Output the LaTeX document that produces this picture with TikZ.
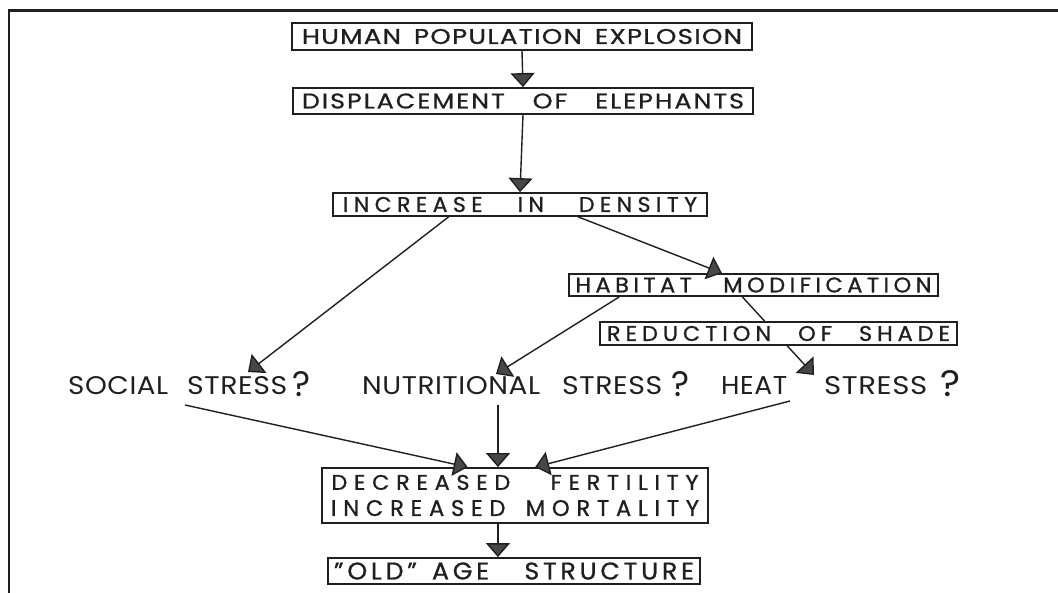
\documentclass[tikz,border=0pt]{standalone}
\usepackage{fontspec}
\setmainfont{Poppins}
\usepackage{graphicx}
\usetikzlibrary{arrows.meta,calc}
\definecolor{ink}{gray}{0.12}
% lettering fitted to a given width and cap height, with extra tracking
\newcommand\fitlbl[4]{\resizebox{#1pt}{#2pt}{\addfontfeatures{LetterSpace=#3}#4}}
% the same, slightly heavier, for the boxed headings
\newcommand\fitbox[4]{\resizebox{#1pt}{#2pt}{\addfontfeatures{LetterSpace=#3,FakeBold=0.9}#4}}
\newcommand\gap[1]{\hspace{#1em}}
\begin{document}
\begin{tikzpicture}[x=1pt,y=-1pt,
  box/.style={draw=ink, line width=1.8pt, fill=white, inner sep=0pt, text=ink},
  link/.style={draw=ink, line width=1.4pt},
  arr/.style={link, -{Triangle[width=24pt,length=14pt,fill=black!72]}},
  word/.style={anchor=south west, inner sep=0pt, text=ink}]
\fill[white] (0,0) rectangle (1058,593);
\useasboundingbox (0,0) rectangle (1058,593);
% frame
\draw[ink, line width=2.5pt] (1058,10.5) -- (9,10.5) -- (9,593);

% main chain
\node[box, minimum width=460pt, minimum height=27pt] (hpe) at (522,36.5)
  {\fitbox{440}{15}{5}{HUMAN\gap{0.5}POPULATION\gap{0.5}EXPLOSION}};
\node[box, minimum width=460pt, minimum height=26pt] (dis) at (523,101)
  {\fitbox{442}{15}{8}{DISPLACEMENT\gap{1.1}OF\gap{1.1}ELEPHANTS}};
\node[box, minimum width=374pt, minimum height=23pt] (den) at (520,204.5)
  {\fitbox{354}{15}{25}{INCREASE\gap{1.6}IN\gap{1.6}DENSITY}};
\node[box, minimum width=369pt, minimum height=22pt] (hab) at (753.5,285)
  {\fitbox{356}{15}{20}{HABITAT\gap{1.4}MODIFICATION}};
\node[box, minimum width=386pt, minimum height=55pt, align=center] (fer) at (515,495.5)
  {\fitbox{367}{15}{30}{DECREASED\gap{1.8}FERTILITY}\\[9pt]\fitbox{368}{16}{30}{INCREASED\gap{0.9}MORTALITY}};
\node[box, minimum width=372pt, minimum height=26pt] (old) at (514,571)
  {\fitbox{360}{17}{15}{"OLD"\gap{0.6}AGE\gap{1.4}STRUCTURE}};

% the three stresses
\node[word] (socA) at (68,395) {\fitlbl{100}{18}{2}{SOCIAL}};
\node[word] (socB) at (187,395) {\fitlbl{100}{18}{2}{STRESS}};
\node[word] (socQ) at (292,397) {\fitlbl{18}{25}{0}{?}};
\node[word] (nutA) at (362,395) {\fitlbl{178}{18}{2}{NUTRITIONAL}};
\node[word] (nutB) at (562,395) {\fitlbl{100}{18}{2}{STRESS}};
\node[word] (nutQ) at (671,397) {\fitlbl{18}{25}{0}{?}};
\node[word] (heaA) at (721,395) {\fitlbl{66}{18}{2}{HEAT}};
\node[word] (heaB) at (824,395) {\fitlbl{103}{18}{2}{STRESS}};
\node[word] (heaQ) at (940,397) {\fitlbl{20}{26}{0}{?}};

\coordinate (socTip) at (248,372);
\coordinate (nutTip) at (496,374);
\coordinate (heaTip) at (814,375);
\coordinate (socFoot) at (185,405);
\coordinate (nutFoot) at (498,405);
\coordinate (heaFoot) at (790,401);

% connectors
\draw[arr] (hpe.south) -- (dis.north);
\draw[arr] (dis.south) -- (den.north);
\draw[arr] ($(den.south west)!0.31!(den.south east)$) -- (socTip);
\draw[arr] ($(den.south west)!0.655!(den.south east)$) -- ($(hab.north west)!0.415!(hab.north east)$);
\draw[arr] ($(hab.south west)!0.138!(hab.south east)$) -- (nutTip);
\draw[arr] ($(hab.south west)!0.47!(hab.south east)$) -- (heaTip);
% this box sits over the heat-stress connector
\node[box, minimum width=357pt, minimum height=23pt] (sha) at (778.5,333.5)
  {\fitbox{343}{15}{22}{REDUCTION\gap{1.2}OF\gap{1.2}SHADE}};

\draw[arr] (socFoot) -- ($(fer.north west)!0.378!(fer.north east)$);
\draw[arr] (nutFoot) -- (nutFoot |- fer.north);
\draw[arr] (heaFoot) -- ($(fer.north west)!0.552!(fer.north east)$);
\coordinate (ferOut) at ($(fer.south west)!0.456!(fer.south east)$);
\draw[arr] (ferOut) -- (ferOut |- old.north);
\end{tikzpicture}
\end{document}
